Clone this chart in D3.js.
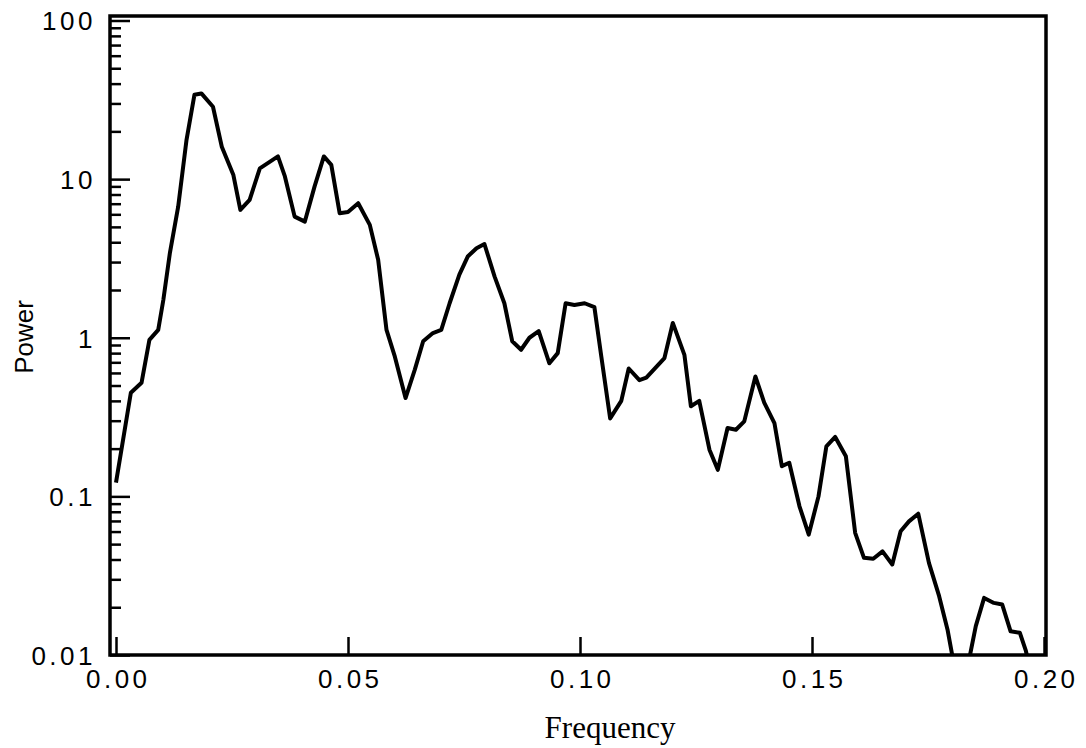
<!DOCTYPE html>
<html>
<head>
<meta charset="utf-8">
<script src="https://cdn.jsdelivr.net/npm/d3@7"></script>
<style>
  body { margin: 0; background: #fff; }
  svg { display: block; }
  .tick line { stroke: #000; stroke-width: 2.5px; }
</style>
</head>
<body>
<div id="wrapper"></div>
<script>
// frequency / power
const frequency = [
  0.0000, 0.0032, 0.0055, 0.0072, 0.0091, 0.0102, 0.0116, 0.0134, 0.0152, 0.0169,
  0.0184, 0.0209, 0.0228, 0.0253, 0.0268, 0.0288, 0.0310, 0.0332, 0.0349, 0.0364,
  0.0385, 0.0407, 0.0428, 0.0448, 0.0464, 0.0482, 0.0500, 0.0522, 0.0547, 0.0565,
  0.0583, 0.0601, 0.0624, 0.0644, 0.0662, 0.0683, 0.0701, 0.0719, 0.0740, 0.0758,
  0.0777, 0.0794, 0.0816, 0.0837, 0.0854, 0.0873, 0.0891, 0.0911, 0.0934, 0.0952,
  0.0969, 0.0988, 0.1010, 0.1031, 0.1046, 0.1065, 0.1089, 0.1105, 0.1128, 0.1143,
  0.1182, 0.1200, 0.1225, 0.1239, 0.1257, 0.1279, 0.1297, 0.1318, 0.1336, 0.1354,
  0.1378, 0.1397, 0.1419, 0.1435, 0.1451, 0.1473, 0.1493, 0.1514, 0.1531, 0.1550,
  0.1573, 0.1593, 0.1612, 0.1632, 0.1652, 0.1673, 0.1691, 0.1709, 0.1729, 0.1752,
  0.1774, 0.1792, 0.1810, 0.1832, 0.1853, 0.1871, 0.1892, 0.1910, 0.1928, 0.1948,
  0.1961, 0.1975
];
const power = [
  0.122, 0.45, 0.52, 0.97, 1.12, 1.73, 3.4, 6.7, 17.7, 34,
  34.7, 28.6, 16, 10.6, 6.4, 7.4, 11.7, 12.9, 13.9, 10.4,
  5.8, 5.4, 9.0, 13.9, 12.3, 6.1, 6.2, 7.05, 5.15, 3.1,
  1.12, 0.76, 0.417, 0.63, 0.95, 1.07, 1.12, 1.65, 2.5, 3.25,
  3.67, 3.9, 2.43, 1.65, 0.95, 0.84, 1.0, 1.1, 0.69, 0.80,
  1.65, 1.61, 1.65, 1.56, 0.76, 0.31, 0.40, 0.64, 0.54, 0.56,
  0.745, 1.24, 0.78, 0.37, 0.40, 0.197, 0.147, 0.27, 0.263, 0.297,
  0.57, 0.39, 0.29, 0.155, 0.163, 0.0866, 0.0574, 0.10, 0.207, 0.237,
  0.179, 0.0589, 0.041, 0.0404, 0.045, 0.0372, 0.0603, 0.0696, 0.0778, 0.0381,
  0.0235, 0.0145, 0.0075, 0.0075, 0.0152, 0.0229, 0.0213, 0.0208, 0.0141, 0.0138,
  0.0106, 0.007
];

const xTicks = [0, 0.05, 0.10, 0.15, 0.20];
const xTickLabels = ["0.00", "0.05", "0.10", "0.15", "0.20"];
const yTicks = [0.01, 0.1, 1, 10, 100];
const yTickLabels = ["0.01", "0.1", "1", "10", "100"];

const W = 1086, H = 748;
const box = {left: 110, right: 1046, top: 16, bottom: 655};
const labelFont = '"Liberation Sans", Arial, sans-serif';

const svg = d3.select('#wrapper')
  .append('svg')
  .attr('width', W)
  .attr('height', H);

const x = d3.scaleLinear().domain([0, 0.2]).range([116, 1044]);
const y = d3.scaleLog().domain([0.01, 100]).range([655, 20.5]);

// minor ticks 2..9 in each decade
const yMinor = [];
for (let d = -2; d < 2; d++) {
  for (let k = 2; k <= 9; k++) yMinor.push(k * Math.pow(10, d));
}

svg.append('clipPath').attr('id', 'plot')
  .append('rect')
  .attr('x', box.left).attr('y', box.top)
  .attr('width', box.right - box.left).attr('height', box.bottom - box.top);

// minor y ticks
const gMinor = svg.append('g')
  .attr('transform', `translate(${box.left},0)`)
  .call(d3.axisLeft(y).tickValues(yMinor).tickFormat('').tickSizeInner(-11).tickSizeOuter(0));
gMinor.select('.domain').remove();

// major y ticks
const gy = svg.append('g')
  .attr('transform', `translate(${box.left},0)`)
  .call(d3.axisLeft(y)
    .tickValues(yTicks)
    .tickFormat((d, i) => yTickLabels[i])
    .tickSizeInner(-20).tickSizeOuter(0).tickPadding(14));
gy.select('.domain').remove();

// x ticks
const gx = svg.append('g')
  .attr('transform', `translate(0,${box.bottom})`)
  .call(d3.axisBottom(x)
    .tickValues(xTicks)
    .tickFormat((d, i) => xTickLabels[i])
    .tickSizeInner(-18).tickSizeOuter(0).tickPadding(14));
gx.select('.domain').remove();

svg.selectAll('.tick text')
  .style('font-family', labelFont)
  .style('font-size', '26px')
  .style('letter-spacing', '3.5px')
  .attr('fill', '#000');
gy.selectAll('.tick text').attr('dy', '0.36em');
gx.selectAll('.tick text').attr('dx', '1.75').attr('dy', '0.72em');

// frame
svg.append('rect')
  .attr('x', box.left).attr('y', box.top)
  .attr('width', box.right - box.left).attr('height', box.bottom - box.top)
  .attr('fill', 'none')
  .attr('stroke', '#000')
  .attr('stroke-width', 3.5);

// spectrum line
const line = d3.line()
  .x((d, i) => x(frequency[i]))
  .y((d, i) => y(power[i]));

svg.append('path')
  .datum(power)
  .attr('clip-path', 'url(#plot)')
  .attr('d', line)
  .attr('fill', 'none')
  .attr('stroke', '#000')
  .attr('stroke-width', 4)
  .attr('stroke-linejoin', 'round');

// axis titles
svg.append('text')
  .attr('transform', 'translate(33,337) rotate(-90)')
  .attr('text-anchor', 'middle')
  .style('font-family', labelFont)
  .style('font-size', '26px')
  .text('Power');

svg.append('text')
  .attr('x', 610)
  .attr('y', 738)
  .attr('text-anchor', 'middle')
  .style('font-family', '"Liberation Serif", "Times New Roman", serif')
  .style('font-size', '31px')
  .text('Frequency');
</script>
</body>
</html>
